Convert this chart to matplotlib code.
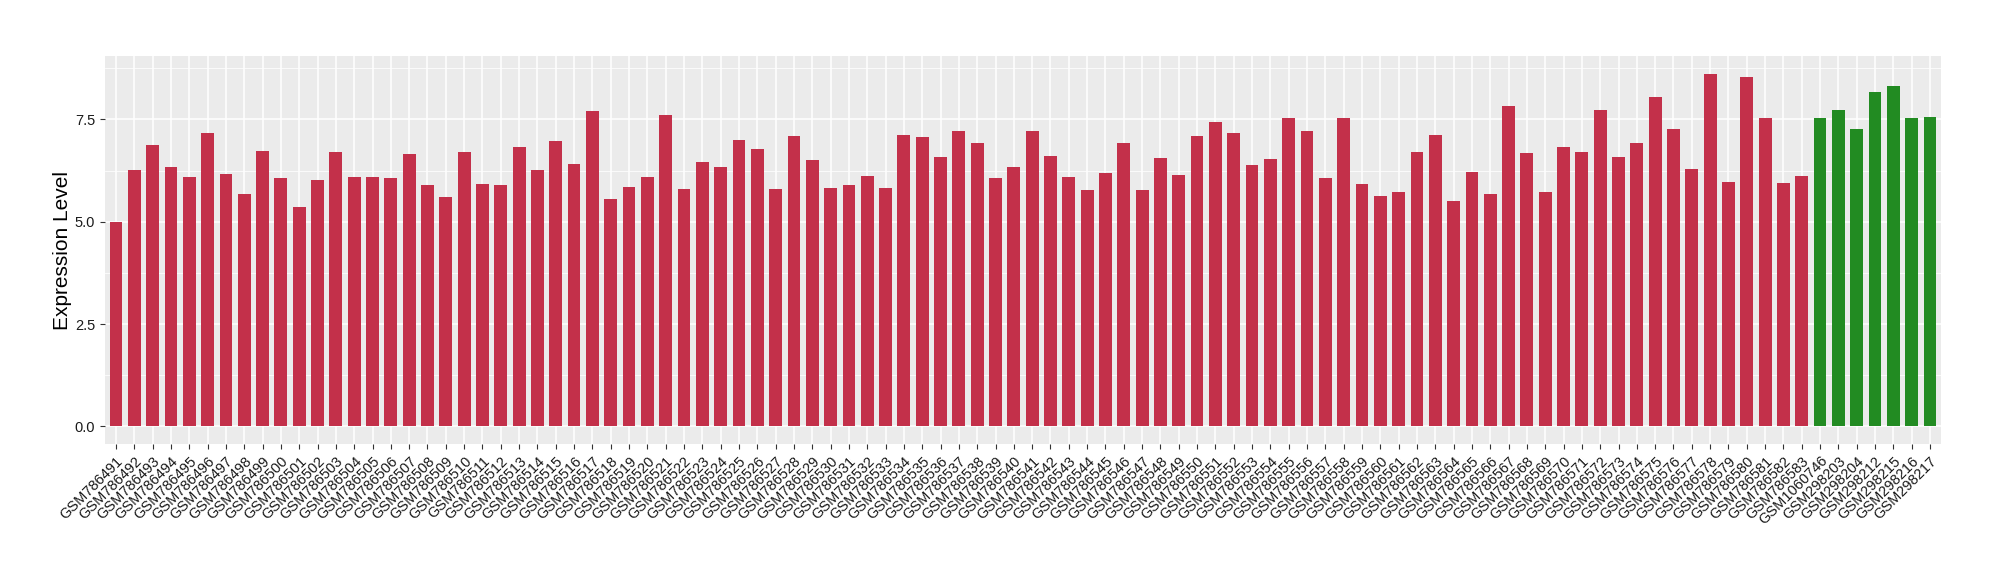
import matplotlib
matplotlib.use("Agg")
import matplotlib.pyplot as plt
import matplotlib.transforms as mtransforms
import numpy as np

# muestras y niveles de expresion
red_samples = ["GSM%d" % n for n in range(786491, 786584)]
green_samples = ["GSM1060746", "GSM298203", "GSM298204", "GSM298212",
                 "GSM298215", "GSM298216", "GSM298217"]

red_values = [5.00, 6.26, 6.87, 6.33, 6.09, 7.16, 6.16, 5.68, 6.72, 6.07,
              5.36, 6.02, 6.70, 6.09, 6.09, 6.07, 6.65, 5.90, 5.60, 6.70,
              5.92, 5.90, 6.82, 6.26, 6.97, 6.41, 7.70, 5.56, 5.85, 6.09,
              7.62, 5.80, 6.46, 6.33, 6.99, 6.77, 5.80, 7.09, 6.50, 5.82,
              5.90, 6.12, 5.82, 7.11, 7.06, 6.58, 7.23, 6.92, 6.07, 6.33,
              7.23, 6.60, 6.09, 5.77, 6.19, 6.92, 5.77, 6.55, 6.14, 7.09,
              7.43, 7.16, 6.38, 6.53, 7.53, 7.23, 6.07, 7.53, 5.92, 5.63,
              5.73, 6.70, 7.11, 5.51, 6.21, 5.68, 7.82, 6.67, 5.73, 6.82,
              6.70, 7.72, 6.58, 6.92, 8.04, 7.26, 6.29, 8.62, 5.97, 8.55,
              7.53, 5.94, 6.12]
green_values = [7.53, 7.72, 7.26, 8.18, 8.33, 7.53, 7.55]

labels = red_samples + green_samples
values = red_values + green_values
colors = ["#C3304A"] * len(red_values) + ["#228B22"] * len(green_values)

plt.rcParams['font.family'] = ['Liberation Sans', 'DejaVu Sans']

fig = plt.figure(figsize=(20, 5.8), dpi=100)
ax = fig.add_axes([0.0525, 0.2345, 0.918, 0.6689])

x = np.arange(len(values))
ax.set_facecolor("#EBEBEB")
ax.set_axisbelow(True)
ax.bar(x, values, width=0.7, color=colors, zorder=3)

ymax = max(values)
ax.set_ylim(-0.05 * ymax, 1.05 * ymax)
ax.set_xlim(-0.6, len(values) - 0.4)

ax.set_yticks([0, 2.5, 5.0, 7.5])
ax.set_yticklabels(["0.0", "2.5", "5.0", "7.5"], fontsize=10.5, color="#1a1a1a")
ax.set_yticks([1.25, 3.75, 6.25, 8.75], minor=True)
ax.set_xticks(x)
ax.set_xticklabels(labels, rotation=45, ha="right", va="top",
                   rotation_mode="anchor", fontsize=10.5, color="#1a1a1a")

# desplazar un poco las etiquetas del eje x
offset = mtransforms.ScaledTranslation(7 / 100, -2 / 100, fig.dpi_scale_trans)
for lab in ax.get_xticklabels():
    lab.set_transform(lab.get_transform() + offset)

ax.grid(which="major", color="white", linewidth=1.1)
ax.grid(which="minor", axis="y", color="white", linewidth=0.55)
ax.tick_params(which="major", length=3.5, color="#333333", width=0.8)
ax.tick_params(which="minor", length=0)
for s in ax.spines.values():
    s.set_visible(False)

ax.set_ylabel("Expression Level", fontsize=15, labelpad=2)

fig.savefig("out.png", dpi=100)
